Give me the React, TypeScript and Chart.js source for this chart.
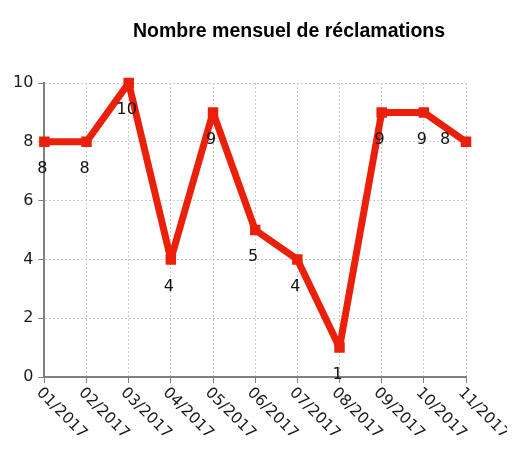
import React, { useEffect, useRef } from "react";
import { Chart, registerables } from "chart.js";

Chart.register(...registerables);

const TITLE = "Nombre mensuel de réclamations";
const MONTHS = ["01/2017", "02/2017", "03/2017", "04/2017", "05/2017", "06/2017", "07/2017", "08/2017", "09/2017", "10/2017", "11/2017"];
const COMPLAINTS = [8, 8, 10, 4, 9, 5, 4, 1, 9, 9, 8];
const Y_MIN = 0;
const Y_MAX = 10;
const Y_STEP = 2;

const RED = "#ea200a";

const titlePlugin = {
  id: "customTitle",
  afterDraw(chart: any) {
    const ctx = chart.ctx;
    ctx.save();
    ctx.font = 'bold 19.5px "Liberation Sans", Arial, sans-serif';
    ctx.fillStyle = "#000";
    ctx.textAlign = "center";
    ctx.textBaseline = "alphabetic";
    ctx.fillText(TITLE, 281, 29);
    ctx.restore();
  },
};

const xLabelPlugin = {
  id: "rotatedXLabels",
  afterDraw(chart: any) {
    const ctx = chart.ctx;
    const xs = chart.scales.x;
    const yTop = chart.chartArea.bottom + 8;
    ctx.save();
    ctx.font = '15.5px "DejaVu Sans", sans-serif';
    ctx.fillStyle = "#1a1a1a";
    ctx.textAlign = "left";
    ctx.textBaseline = "top";
    MONTHS.forEach((label, i) => {
      const x = xs.getPixelForTick(i);
      ctx.save();
      ctx.translate(x, yTop);
      ctx.rotate(Math.PI / 4);
      ctx.fillText(label, 0, 0);
      ctx.restore();
    });
    ctx.restore();
  },
};

const valueLabelPlugin = {
  id: "valueLabels",
  afterDatasetsDraw(chart: any) {
    const ctx = chart.ctx;
    const meta = chart.getDatasetMeta(0);
    ctx.save();
    ctx.font = '16px "DejaVu Sans", sans-serif';
    ctx.fillStyle = "#111";
    ctx.textAlign = "center";
    ctx.textBaseline = "middle";
    meta.data.forEach((pt: any, i: number) => {
      const v = COMPLAINTS[i];
      const last = i === meta.data.length - 1;
      const x = last ? pt.x - 21 : pt.x - 2;
      const y = last ? pt.y - 2 : pt.y + 27;
      ctx.fillText(String(v), x, y);
    });
    ctx.restore();
  },
};

export default function App() {
  const ref = useRef<HTMLCanvasElement>(null);
  useEffect(() => {
    if (!ref.current) return;
    const chart = new Chart(ref.current, {
      type: "line",
      data: {
        labels: MONTHS,
        datasets: [
          {
            data: COMPLAINTS,
            borderColor: RED,
            backgroundColor: RED,
            borderWidth: 7,
            borderJoinStyle: "bevel",
            tension: 0,
            pointStyle: "rect",
            pointRadius: 6,
            pointBorderWidth: 2,
            pointBackgroundColor: RED,
            pointBorderColor: RED,
            clip: false,
          } as any,
        ],
      },
      options: {
        responsive: false,
        animation: false,
        layout: { padding: { top: 75, left: 0, right: 41, bottom: 59 } },
        plugins: {
          legend: { display: false },
          title: { display: false },
          tooltip: { enabled: false },
        },
        scales: {
          x: {
            offset: false,
            ticks: { display: false },
            grid: {
              color: "#cccccc",
              lineWidth: 1,
              drawTicks: true,
              tickLength: 6,
              tickColor: "#808080",
              tickBorderDash: [],
              tickWidth: 1,
            } as any,
            border: { color: "#808080", width: 2, dash: [2, 2] },
          },
          y: {
            min: Y_MIN,
            max: Y_MAX,
            ticks: {
              stepSize: Y_STEP,
              color: "#1a1a1a",
              font: { family: '"DejaVu Sans", sans-serif', size: 16 },
              padding: 5,
            },
            grid: {
              color: "#cccccc",
              lineWidth: 1,
              tickLength: 6,
              tickColor: "#808080",
              tickBorderDash: [],
              tickWidth: 1,
            } as any,
            border: { color: "#808080", width: 2, dash: [2, 2] },
          },
        },
      },
      plugins: [titlePlugin, xLabelPlugin, valueLabelPlugin],
    });
    return () => chart.destroy();
  }, []);
  return (
    <div style={{ width: 499, height: 434 }}>
      <canvas ref={ref} width={499} height={434} style={{ display: "block" }} />
    </div>
  );
}
